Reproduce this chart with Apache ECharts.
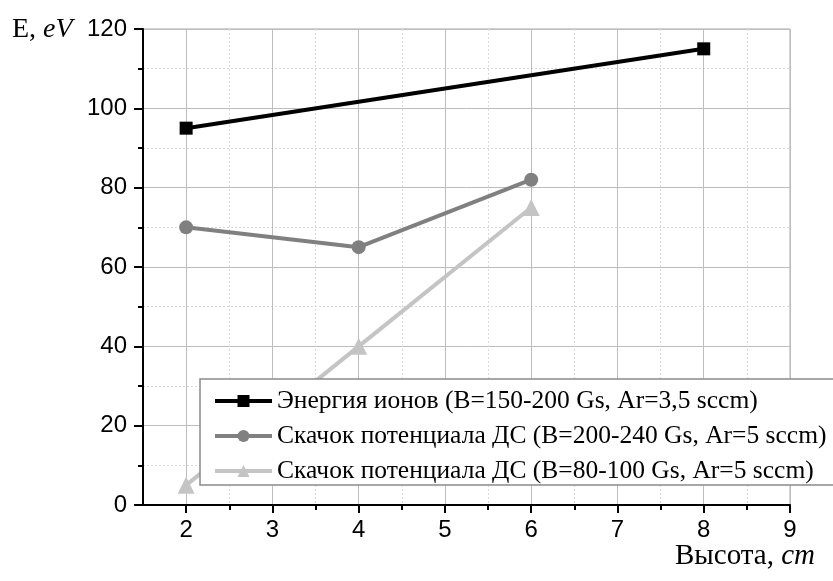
<!DOCTYPE html>
<html>
<head>
<meta charset="utf-8">
<script src="https://cdn.jsdelivr.net/npm/echarts@6/dist/echarts.min.js"></script>
<style>
  html, body { margin: 0; padding: 0; background: #fff; }
  #chart { width: 833px; height: 581px; }
</style>
</head>
<body>
<div id="chart"></div>
<script>
// Heights (cm) and energies (eV)
const ionHeights = [2, 8];
const ionEnergy = [95, 115];

const jumpHighBHeights = [2, 4, 6];
const jumpHighB = [70, 65, 82];

const jumpLowBHeights = [2, 4, 6];
const jumpLowB = [5, 40, 75];

const seriesNames = [
  'Энергия ионов (B=150-200 Gs, Ar=3,5 sccm)',
  'Скачок потенциала ДС (B=200-240 Gs, Ar=5 sccm)',
  'Скачок потенциала ДС (B=80-100 Gs, Ar=5 sccm)'
];

const xMajorTicks = [2, 3, 4, 5, 6, 7, 8, 9];
const xMinorTicks = [2.5, 3.5, 4.5, 5.5, 6.5, 7.5, 8.5];

const pairs = (xs, ys) => xs.map((x, i) => [x, ys[i]]);

const SANS = 'Liberation Sans, Arial, sans-serif';
const SERIF = 'Liberation Serif, Times New Roman, serif';

const chart = echarts.init(document.getElementById('chart'));

chart.setOption({
  backgroundColor: '#fff',
  animation: false,
  grid: {
    left: 143, right: 43, top: 29, bottom: 76,
    show: true, borderColor: '#a8a8a8', borderWidth: 1, backgroundColor: '#fff'
  },
  xAxis: [
    {
      type: 'value', min: 1.5, max: 9,
      axisLine: { show: true, lineStyle: { color: '#000', width: 2 } },
      axisTick: { show: true, customValues: xMajorTicks, length: 8, lineStyle: { color: '#000', width: 2 } },
      axisLabel: { customValues: xMajorTicks, fontFamily: SANS, fontSize: 24, color: '#000', margin: 13 },
      splitLine: { show: true, lineStyle: { color: '#bdbdbd', width: 1 } }
    },
    {
      type: 'value', min: 1.5, max: 9, position: 'bottom',
      axisLine: { show: false },
      axisTick: { show: true, customValues: xMinorTicks, length: 5, lineStyle: { color: '#000', width: 2 } },
      axisLabel: { show: false, customValues: xMinorTicks },
      splitLine: { show: true, lineStyle: { color: '#dadada', width: 1, type: [2, 2] } }
    }
  ],
  yAxis: {
    type: 'value', min: 0, max: 120, interval: 20,
    axisLine: { show: true, lineStyle: { color: '#000', width: 2 } },
    axisTick: { show: true, length: 9, lineStyle: { color: '#000', width: 2 } },
    minorTick: { show: true, splitNumber: 2, length: 5, lineStyle: { color: '#000', width: 2 } },
    axisLabel: { fontFamily: SANS, fontSize: 24, color: '#000', margin: 16 },
    splitLine: { show: true, lineStyle: { color: '#bdbdbd', width: 1 } },
    minorSplitLine: { show: true, lineStyle: { color: '#dadada', width: 1, type: [2, 2] } }
  },
  legend: {
    orient: 'vertical',
    left: 200, top: 379,
    padding: [9, 40, 1, 13],
    itemWidth: 57, itemHeight: 15, itemGap: 9,
    backgroundColor: '#fff',
    borderColor: '#8a8a8a', borderWidth: 1.5,
    lineStyle: { width: 4 },
    textStyle: { fontFamily: SERIF, fontSize: 25.5, color: '#000' },
    data: seriesNames,
    z: 10
  },
  series: [
    {
      name: seriesNames[0], type: 'line',
      data: pairs(ionHeights, ionEnergy),
      symbol: 'rect', symbolSize: 13,
      lineStyle: { color: '#000', width: 4 },
      itemStyle: { color: '#000' },
      z: 4
    },
    {
      name: seriesNames[1], type: 'line',
      data: pairs(jumpHighBHeights, jumpHighB),
      symbol: 'circle', symbolSize: 14,
      lineStyle: { color: '#808080', width: 4 },
      itemStyle: { color: '#808080' },
      z: 3
    },
    {
      name: seriesNames[2], type: 'line',
      data: pairs(jumpLowBHeights, jumpLowB),
      symbol: 'triangle', symbolSize: 17,
      lineStyle: { color: '#c4c4c4', width: 4 },
      itemStyle: { color: '#c4c4c4' },
      z: 2
    }
  ],
  graphic: [
    {
      type: 'text', left: 12, top: 16,
      style: {
        text: '{n|E, }{i|eV}',
        rich: {
          n: { fontFamily: SERIF, fontSize: 28, fill: '#000' },
          i: { fontFamily: SERIF, fontSize: 28, fontStyle: 'italic', fill: '#000' }
        }
      }
    },
    {
      type: 'text', right: 18, top: 542,
      style: {
        text: '{n|Высота, }{i|cm}',
        rich: {
          n: { fontFamily: SERIF, fontSize: 29, fill: '#000' },
          i: { fontFamily: SERIF, fontSize: 29, fontStyle: 'italic', fill: '#000' }
        }
      }
    }
  ]
});
</script>
</body>
</html>
